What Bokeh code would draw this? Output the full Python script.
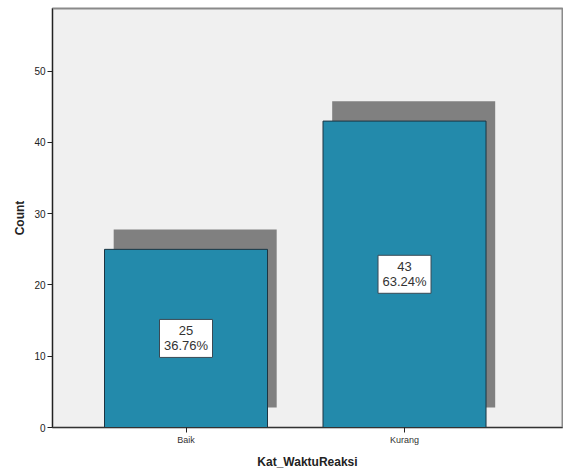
from bokeh.plotting import figure
from bokeh.models import ColumnDataSource, FixedTicker, Range1d
from bokeh.core.properties import value
from bokeh.embed import file_html
from bokeh.resources import INLINE

categories = ["Baik", "Kurang"]
counts = [25, 43]
percents = ["36.76%", "63.24%"]
y_ticks = [0, 10, 20, 30, 40, 50]

xs = list(range(len(categories)))
shadow_dx = 0.042
shadow_dy = 2.8

src = ColumnDataSource(dict(
    x=xs,
    top=counts,
    sx=[x + shadow_dx for x in xs],
    sbottom=[shadow_dy] * len(xs),
    stop=[c + shadow_dy for c in counts],
    ymid=[c / 2 for c in counts],
    label=[f"{c}\n{p}" for c, p in zip(counts, percents)],
))

p = figure(width=563, height=471, output_backend="svg", toolbar_location=None,
           x_range=Range1d(-0.611, 1.723), y_range=Range1d(0, 58.8),
           min_border_left=52, min_border_right=1, min_border_top=8, min_border_bottom=43)
p.background_fill_color = "#f0f0f0"
p.border_fill_color = "white"
p.outline_line_color = "#8a8a8a"
p.outline_line_width = 2
p.xgrid.visible = False
p.ygrid.visible = False

p.vbar(x="sx", bottom="sbottom", top="stop", width=0.746, source=src,
       fill_color="#808080", line_color=None)
p.vbar(x="x", bottom=0, top="top", width=0.746, source=src,
       fill_color="#238aab", line_color="#1c3442", line_width=1)

p.rect(x="x", y="ymid", width=53, height=38, width_units="screen", height_units="screen",
       source=src, fill_color="white", line_color="#3a4a55", line_width=1)
p.text(x="x", y="ymid", text="label", source=src, text_align="center",
       text_baseline="middle", text_font=value("Liberation Sans"),
       text_font_size="13px", text_color="#333333", text_line_height=1.0)

p.yaxis.ticker = FixedTicker(ticks=y_ticks)
p.yaxis.minor_tick_line_color = None
p.yaxis.major_tick_out = 5
p.yaxis.major_tick_in = 0
p.yaxis.axis_line_color = "#222222"
p.yaxis.major_tick_line_color = "#222222"
p.yaxis.major_label_text_font = "Liberation Sans"
p.yaxis.major_label_text_font_size = "10px"
p.yaxis.major_label_text_color = "#222222"
p.yaxis.major_label_standoff = 2
p.yaxis.axis_label = "Count"
p.yaxis.axis_label_text_font = "Liberation Sans"
p.yaxis.axis_label_text_font_style = "bold"
p.yaxis.axis_label_text_font_size = "12px"
p.yaxis.axis_label_text_color = "#222222"
p.yaxis.axis_label_standoff = 4

p.xaxis.ticker = FixedTicker(ticks=xs)
p.xaxis.major_label_overrides = {i: c for i, c in enumerate(categories)}
p.xaxis.minor_tick_line_color = None
p.xaxis.major_tick_out = 5
p.xaxis.major_tick_in = 0
p.xaxis.axis_line_color = "#333333"
p.xaxis.axis_line_width = 1
p.xaxis.major_tick_line_color = "#222222"
p.xaxis.major_label_text_font = "Liberation Sans"
p.xaxis.major_label_text_font_size = "9px"
p.xaxis.major_label_text_color = "#333333"
p.xaxis.major_label_standoff = 2
p.xaxis.axis_label = "Kat_WaktuReaksi"
p.xaxis.axis_label_text_font = "Liberation Sans"
p.xaxis.axis_label_text_font_style = "bold"
p.xaxis.axis_label_text_font_size = "12px"
p.xaxis.axis_label_text_color = "#222222"
p.xaxis.axis_label_standoff = 7

open("out.html", "w").write(file_html(p, INLINE))
